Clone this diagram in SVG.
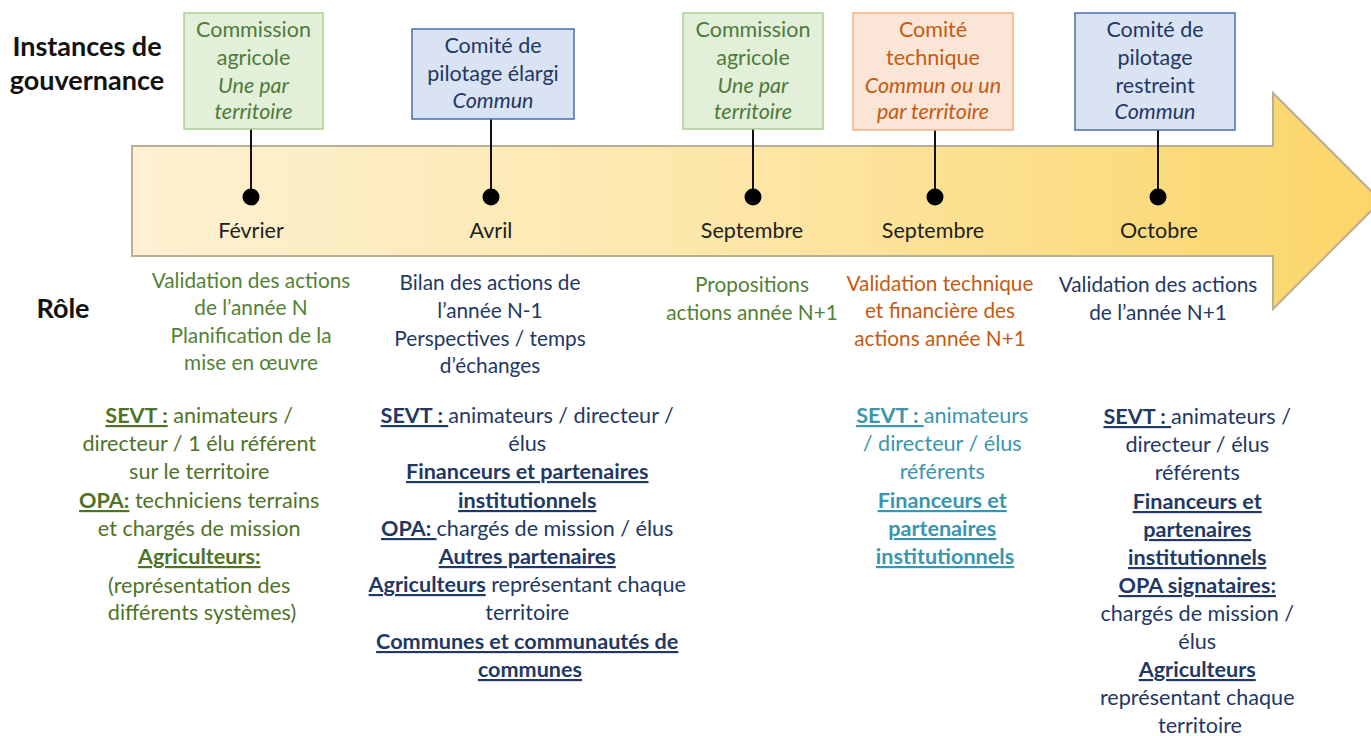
<svg xmlns="http://www.w3.org/2000/svg" width="1371" height="736" viewBox="0 0 1371 736">
<defs>
<linearGradient id="arrowGrad" x1="0" y1="0" x2="1" y2="0">
<stop offset="0" stop-color="#FDF1D2"/>
<stop offset="0.5" stop-color="#FDE6A6"/>
<stop offset="1" stop-color="#FBD567"/>
</linearGradient>
<style>
text{font-family:Lato,"Liberation Sans",sans-serif;}
.hdr{font-size:27px;font-weight:bold;fill:#111;}
.box{font-size:21.5px;text-anchor:middle;}
.it{font-style:italic;}
.green-box rect{fill:#E2EFD9;stroke:#A9D18E;stroke-width:1.5;}
.green-box text{fill:#4E7A3A;}
.blue-box rect{fill:#DAE3F3;stroke:#4A6DA8;stroke-width:1.5;}
.blue-box text{fill:#1F3864;}
.orange-box rect{fill:#FBE5D6;stroke:#F4B183;stroke-width:1.5;}
.orange-box text{fill:#C55A11;}
.month{font-size:21.5px;fill:#222;text-anchor:middle;}
.role{font-size:20.8px;text-anchor:middle;}
.part{font-size:21.6px;text-anchor:middle;}
.b{font-weight:bold;text-decoration:underline;}
.g{fill:#538135;}
.gp{fill:#4F7326;}
.bl{fill:#1F3864;}
.or{fill:#C55A11;}
.tl{fill:#3A95AE;}
.stem{stroke:#111;stroke-width:2;}
.dot{fill:#000;}
</style>
</defs>

<g id="timeline-arrow">
<path d="M132,146 L1273,146 L1273,93 L1381,201 L1273,309 L1273,256 L132,256 Z" fill="url(#arrowGrad)" stroke="#B9AF96" stroke-width="2"/>
</g>

<g id="labels">
<text class="hdr" x="87" y="56" text-anchor="middle">Instances de</text>
<text class="hdr" x="87" y="90" text-anchor="middle">gouvernance</text>
<text class="hdr" x="63" y="318" text-anchor="middle">Rôle</text>
</g>

<g id="connectors">
<line class="stem" x1="251" y1="129" x2="251" y2="197"/>
<circle class="dot" cx="251" cy="197" r="8.5"/>
<line class="stem" x1="491" y1="119" x2="491" y2="197"/>
<circle class="dot" cx="491" cy="197" r="8.5"/>
<line class="stem" x1="753" y1="129" x2="753" y2="197"/>
<circle class="dot" cx="753" cy="197" r="8.5"/>
<line class="stem" x1="935" y1="130" x2="935" y2="197"/>
<circle class="dot" cx="935" cy="197" r="8.5"/>
<line class="stem" x1="1158" y1="130" x2="1158" y2="197"/>
<circle class="dot" cx="1158" cy="197" r="8.5"/>
</g>

<g id="node-commission-fevrier" class="green-box">
<rect x="184" y="13" width="139" height="116"/>
<text class="box"><tspan x="253.5" y="37">Commission</tspan><tspan x="253.5" y="65">agricole</tspan><tspan class="it" x="253.5" y="93">Une par</tspan><tspan class="it" x="253.5" y="119">territoire</tspan></text>
</g>

<g id="node-copil-elargi" class="blue-box">
<rect x="412" y="29" width="162" height="90"/>
<text class="box"><tspan x="493" y="53">Comité de</tspan><tspan x="493" y="81">pilotage élargi</tspan><tspan class="it" x="493" y="108">Commun</tspan></text>
</g>

<g id="node-commission-septembre" class="green-box">
<rect x="683" y="13" width="140" height="116"/>
<text class="box"><tspan x="753" y="37">Commission</tspan><tspan x="753" y="65">agricole</tspan><tspan class="it" x="753" y="93">Une par</tspan><tspan class="it" x="753" y="119">territoire</tspan></text>
</g>

<g id="node-cotech" class="orange-box">
<rect x="853" y="13" width="160" height="117"/>
<text class="box"><tspan x="933" y="37">Comité</tspan><tspan x="933" y="65">technique</tspan><tspan class="it" x="933" y="93">Commun ou un</tspan><tspan class="it" x="933" y="119">par territoire</tspan></text>
</g>

<g id="node-copil-restreint" class="blue-box">
<rect x="1075" y="13" width="160" height="117"/>
<text class="box"><tspan x="1155" y="37">Comité de</tspan><tspan x="1155" y="65">pilotage</tspan><tspan x="1155" y="93">restreint</tspan><tspan class="it" x="1155" y="119">Commun</tspan></text>
</g>

<g id="months">
<text class="month" x="251" y="238">Février</text>
<text class="month" x="491" y="238">Avril</text>
<text class="month" x="752" y="238">Septembre</text>
<text class="month" x="933" y="238">Septembre</text>
<text class="month" x="1159" y="238">Octobre</text>
</g>

<g id="roles">
<text class="role g"><tspan x="251" y="288">Validation des actions</tspan><tspan x="251" y="315">de l’année N</tspan><tspan x="251" y="343">Planification de la</tspan><tspan x="251" y="370">mise en œuvre</tspan></text>
<text class="role bl"><tspan x="490" y="290">Bilan des actions de</tspan><tspan x="490" y="318">l’année N-1</tspan><tspan x="490" y="346">Perspectives / temps</tspan><tspan x="490" y="373">d’échanges</tspan></text>
<text class="role g"><tspan x="752" y="292">Propositions</tspan><tspan x="752" y="320">actions année N+1</tspan></text>
<text class="role or"><tspan x="940" y="291">Validation technique</tspan><tspan x="940" y="318">et financière des</tspan><tspan x="940" y="346">actions année N+1</tspan></text>
<text class="role bl"><tspan x="1158" y="292">Validation des actions</tspan><tspan x="1158" y="320">de l’année N+1</tspan></text>
</g>

<g id="participants">
<text class="part gp">
<tspan x="202" y="423"><tspan class="b">SEVT :</tspan> animateurs /</tspan>
<tspan x="202" y="451">directeur / 1 élu référent</tspan>
<tspan x="202" y="479">sur le territoire</tspan>
<tspan x="202" y="508"><tspan class="b">OPA:</tspan> techniciens terrains</tspan>
<tspan x="202" y="536">et chargés de mission</tspan>
<tspan class="b" x="202" y="564">Agriculteurs:</tspan>
<tspan x="202" y="593">(représentation des</tspan>
<tspan x="202" y="620">différents systèmes)</tspan>
</text>
<text class="part bl">
<tspan x="530" y="423"><tspan class="b">SEVT : </tspan>animateurs / directeur /</tspan>
<tspan x="530" y="451">élus</tspan>
<tspan class="b" x="530" y="479">Financeurs et partenaires</tspan>
<tspan class="b" x="530" y="508">institutionnels</tspan>
<tspan x="530" y="536"><tspan class="b">OPA: </tspan>chargés de mission / élus</tspan>
<tspan class="b" x="530" y="564">Autres partenaires</tspan>
<tspan x="530" y="592"><tspan class="b">Agriculteurs</tspan> représentant chaque</tspan>
<tspan x="530" y="620">territoire</tspan>
<tspan class="b" x="530" y="649">Communes et communautés de</tspan>
<tspan class="b" x="530" y="677">communes</tspan>
</text>
<text class="part tl">
<tspan x="945" y="423"><tspan class="b">SEVT : </tspan>animateurs</tspan>
<tspan x="945" y="451">/ directeur / élus</tspan>
<tspan x="945" y="479">référents</tspan>
<tspan class="b" x="945" y="508">Financeurs et</tspan>
<tspan class="b" x="945" y="536">partenaires</tspan>
<tspan class="b" x="945" y="564">institutionnels</tspan>
</text>
<text class="part bl">
<tspan x="1200" y="424"><tspan class="b">SEVT : </tspan>animateurs /</tspan>
<tspan x="1200" y="452">directeur / élus</tspan>
<tspan x="1200" y="480">référents</tspan>
<tspan class="b" x="1200" y="509">Financeurs et</tspan>
<tspan class="b" x="1200" y="537">partenaires</tspan>
<tspan class="b" x="1200" y="565">institutionnels</tspan>
<tspan class="b" x="1200" y="593">OPA signataires:</tspan>
<tspan x="1200" y="621">chargés de mission /</tspan>
<tspan x="1200" y="649">élus</tspan>
<tspan class="b" x="1200" y="677">Agriculteurs</tspan>
<tspan x="1200" y="705">représentant chaque</tspan>
<tspan x="1200" y="733">territoire</tspan>
</text>
</g>
</svg>
